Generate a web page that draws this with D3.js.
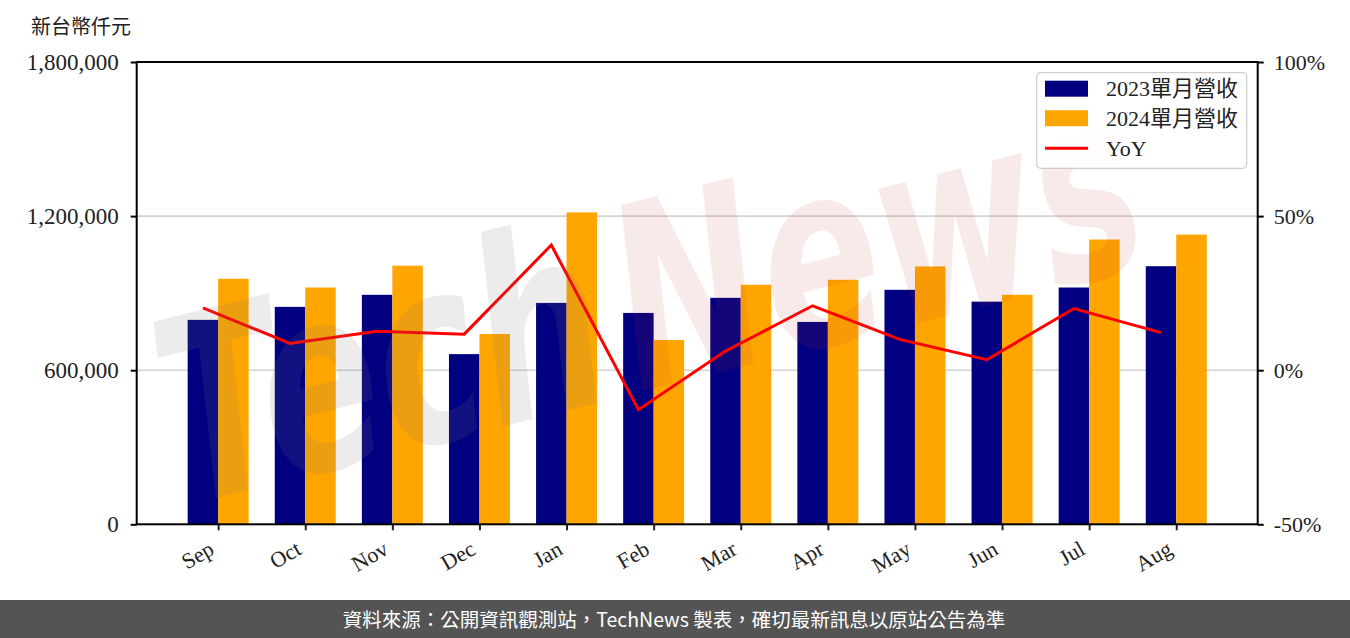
<!DOCTYPE html>
<html>
<head>
<meta charset="utf-8">
<script src="https://cdn.jsdelivr.net/npm/d3@7"></script>
<style>
  html, body { margin: 0; padding: 0; background: #fff; }
  svg { display: block; }
</style>
</head>
<body>
<svg id="chart" width="1350" height="638"></svg>
<script>
// ---- data ----
const categories = ["Sep","Oct","Nov","Dec","Jan","Feb","Mar","Apr","May","Jun","Jul","Aug"];
const revenue2023 = [796000, 846600, 893500, 662600, 862000, 823000, 881800, 788000, 913000, 866900, 922000, 1004900];
const revenue2024 = [956000, 922000, 1007000, 740900, 1214500, 717500, 932700, 952000, 1004000, 893500, 1108800, 1128000];
const yoyPct = [20.2, 8.7, 12.6, 11.7, 40.6, -12.8, 6.2, 20.9, 10.0, 3.4, 20.0, 12.2];
const leftTicks = [0, 600000, 1200000, 1800000];
const rightTicks = [-50, 0, 50, 100];
const seriesNames = ["2023單月營收", "2024單月營收", "YoY"];
const yAxisTitle = "新台幣仟元";
const footerText = "資料來源：公開資訊觀測站，TechNews 製表，確切最新訊息以原站公告為準";

// ---- layout ----
const W = 1350, H = 638;
const plot = { left: 136.7, right: 1257.7, top: 62, bottom: 524.3 };
const barW = 0.35;
const serif = "'Liberation Serif', 'Noto Sans CJK TC', serif";
const sans = "'Noto Sans CJK TC', 'Noto Sans', sans-serif";
const colors = { a: "#000080", b: "#FFA500", line: "#FF0000" };

const svg = d3.select("#chart");

const x = d3.scaleLinear().domain([-0.935, categories.length - 1 + 0.935]).range([plot.left, plot.right]);
const y = d3.scaleLinear().domain([0, 1800000]).range([plot.bottom, plot.top]);
const y2 = d3.scaleLinear().domain([-50, 100]).range([plot.bottom, plot.top]);

// grid
svg.append("g").selectAll("line").data(leftTicks.slice(1, -1)).join("line")
  .attr("x1", plot.left).attr("x2", plot.right)
  .attr("y1", d => y(d)).attr("y2", d => y(d))
  .attr("stroke", "#d3d3d3").attr("stroke-width", 1.6);

// bars
const bw = x(barW) - x(0);
svg.append("g").selectAll("rect").data(revenue2023).join("rect")
  .attr("x", (d, i) => x(i - barW)).attr("width", bw)
  .attr("y", d => y(d)).attr("height", d => y(0) - y(d))
  .attr("fill", colors.a);
svg.append("g").selectAll("rect").data(revenue2024).join("rect")
  .attr("x", (d, i) => x(i)).attr("width", bw)
  .attr("y", d => y(d)).attr("height", d => y(0) - y(d))
  .attr("fill", colors.b);

// yoy line
const line = d3.line().x((d, i) => x(i - barW / 2)).y(d => y2(d));
svg.append("path").datum(yoyPct).attr("d", line)
  .attr("fill", "none").attr("stroke", colors.line).attr("stroke-width", 3)
  .attr("stroke-linejoin", "miter");

// watermark
const wm = svg.append("g").attr("transform", "translate(650,300) rotate(-14) scale(1,1.45)")
  .attr("font-family", "'DejaVu Sans', sans-serif").attr("font-weight", "bold")
  .attr("font-style", "italic").attr("font-size", 176);
const wmt = wm.append("text").attr("text-anchor", "middle").attr("y", 60);
wmt.append("tspan").text("Tech").attr("fill", "#7a7a7a").attr("fill-opacity", 0.14);
wmt.append("tspan").text("News").attr("fill", "#c83232").attr("fill-opacity", 0.1).attr("dx", 20);

// axes
const gx = svg.append("g").attr("transform", `translate(0,${plot.bottom})`)
  .call(d3.axisBottom(x).tickValues(d3.range(categories.length)).tickFormat(i => categories[i]).tickSize(6).tickSizeOuter(0));
gx.select(".domain").remove();
gx.selectAll(".tick line").attr("stroke", "#222").attr("stroke-width", 2);
gx.selectAll(".tick text")
  .attr("font-family", serif).attr("font-size", 22).attr("fill", "#222")
  .attr("text-anchor", "end").attr("dy", 0).attr("y", 0)
  .attr("transform", "translate(-3,29) rotate(-30)");

const gy = svg.append("g").attr("transform", `translate(${plot.left},0)`)
  .call(d3.axisLeft(y).tickValues(leftTicks).tickFormat(d3.format(",")).tickSize(6).tickPadding(12));
gy.select(".domain").remove();
gy.selectAll(".tick line").attr("stroke", "#000").attr("stroke-width", 2);
gy.selectAll(".tick text").attr("font-family", serif).attr("font-size", 23).attr("fill", "#222");

const gy2 = svg.append("g").attr("transform", `translate(${plot.right},0)`)
  .call(d3.axisRight(y2).tickValues(rightTicks).tickFormat(d => d + "%").tickSize(6).tickPadding(10));
gy2.select(".domain").remove();
gy2.selectAll(".tick line").attr("stroke", "#000").attr("stroke-width", 2);
gy2.selectAll(".tick text").attr("font-family", serif).attr("font-size", 22).attr("fill", "#222");

// frame
svg.append("rect").attr("x", plot.left).attr("y", plot.top)
  .attr("width", plot.right - plot.left).attr("height", plot.bottom - plot.top)
  .attr("fill", "none").attr("stroke", "#000").attr("stroke-width", 2);

// y title
svg.append("text").attr("x", 31).attr("y", 34).text(yAxisTitle)
  .attr("font-family", sans).attr("font-size", 20).attr("fill", "#222");

// legend
const lg = svg.append("g").attr("transform", "translate(1036.7,72.7)");
lg.append("rect").attr("width", 210).attr("height", 95.6).attr("rx", 4)
  .attr("fill", "#fff").attr("fill-opacity", 0.85).attr("stroke", "#cccccc").attr("stroke-width", 1.2);
const rowsY = [16, 45.5, 75.5];
[colors.a, colors.b].forEach((c, i) => {
  lg.append("rect").attr("x", 8.3).attr("y", rowsY[i] - 8).attr("width", 43).attr("height", 16).attr("fill", c);
});
lg.append("line").attr("x1", 8.3).attr("x2", 51.3).attr("y1", rowsY[2]).attr("y2", rowsY[2])
  .attr("stroke", colors.line).attr("stroke-width", 3);
seriesNames.forEach((n, i) => {
  lg.append("text").attr("x", 69.3).attr("y", rowsY[i]).attr("dy", "0.35em").text(n)
    .attr("font-family", serif).attr("font-size", 22).attr("fill", "#222");
});

// footer
svg.append("rect").attr("x", 0).attr("y", 600).attr("width", W).attr("height", 38).attr("fill", "#545454");
svg.append("text").attr("x", 674).attr("y", 620).attr("dy", "0.35em").attr("text-anchor", "middle")
  .text(footerText).attr("font-family", sans).attr("font-size", 19.5).attr("fill", "#fff");
</script>
</body>
</html>
